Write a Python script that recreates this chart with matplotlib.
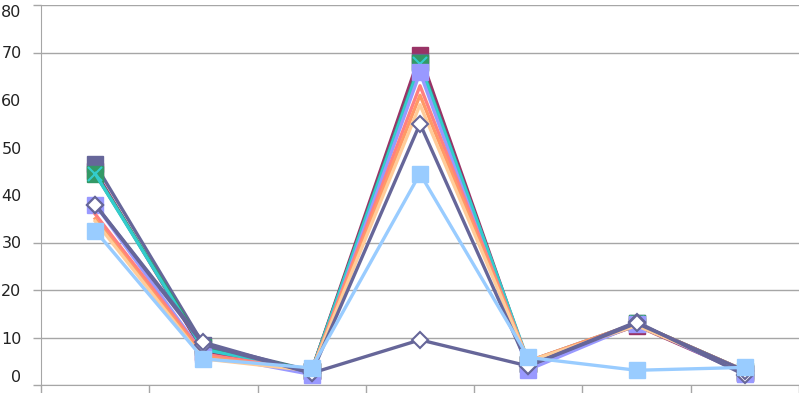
import matplotlib.pyplot as plt

# seven categories, no labels shown on the x axis
cats = [0, 1, 2, 3, 4, 5, 6]

maroon = [45.0, 7.0, 3.0, 69.5, 4.5, 12.5, 2.5]
slate_sq = [46.5, 8.5, 3.0, 68.0, 4.5, 13.0, 2.5]
green = [44.5, 8.0, 3.0, 67.8, 4.5, 13.0, 3.0]
cyan = [44.5, 7.5, 3.0, 67.5, 5.0, 13.0, 3.0]
lavender = [38.0, 6.5, 2.2, 65.8, 3.2, 12.8, 2.4]
salmon = [36.0, 6.5, 3.0, 63.0, 5.0, 13.0, 3.0]
orange = [35.0, 6.0, 3.0, 61.0, 5.0, 13.0, 3.0]
peach = [34.5, 5.5, 3.0, 59.0, 5.0, 12.5, 3.0]
slate_dia = [38.0, 8.5, 2.5, 55.0, 4.0, 13.3, 2.1]
slate_dia2 = [38.0, 9.0, 2.5, 9.5, 4.0, 13.0, 3.0]
light_blue = [32.5, 5.5, 3.6, 44.5, 5.8, 3.1, 3.7]

grid_ticks = [0, 10, 20, 30, 70, 80]
bare_ticks = [40, 50, 60]

fig = plt.figure(figsize=(7.99, 3.93), dpi=100)
ax = fig.add_axes([41 / 799, 8 / 393, 1 - 41 / 799, 380 / 393])

lw = 2.4
ax.plot(cats, maroon, color="#993366", lw=lw, marker="s", ms=12, mec="#993366")
ax.plot(cats, slate_sq, color="#666699", lw=lw, marker="s", ms=12, mec="#666699")
ax.plot(cats, green, color="#339966", lw=lw, marker="s", ms=12, mec="#339966")
ax.plot(cats, cyan, color="#33CCCC", lw=lw, marker="x", ms=10, mew=1.5)
ax.plot(cats, lavender, color="#9999FF", lw=lw, marker="s", ms=12, mec="#9999FF")
ax.plot(cats, salmon, color="#FF8080", lw=lw)
ax.plot(cats, orange, color="#FF9966", lw=lw)
ax.plot(cats, peach, color="#FFCC99", lw=lw)
ax.plot(cats, slate_dia, color="#666699", lw=lw, marker="D", ms=8,
        mfc="white", mec="#666699", mew=1.5)
ax.plot(cats, slate_dia2, color="#666699", lw=lw, marker="D", ms=8,
        mfc="white", mec="#666699", mew=1.5)
ax.plot(cats, light_blue, color="#99CCFF", lw=lw, marker="s", ms=11, mec="#99CCFF")

ax.set_xlim(-0.5, 6.5)
ax.set_ylim(0, 80)

# major ticks carry grid + tick marks, minor ones only the label
ax.set_yticks(grid_ticks)
labels = ax.set_yticklabels([str(v) for v in grid_ticks], fontsize=11.5,
                            color="#222222")
ax.set_yticks(bare_ticks, minor=True)
ax.set_yticklabels([str(v) for v in bare_ticks], minor=True, fontsize=11.5,
                   color="#222222")
# keep the end labels inside the canvas
labels[0].set_va("bottom")
labels[-1].set_va("top")
for v in grid_ticks:
    ax.axhline(v, color="#A6A6A6", lw=1, zorder=0)

ax.set_xticks([c - 0.5 for c in cats] + [6.5])
ax.set_xticklabels([])

ax.tick_params(axis="y", which="major", length=6, width=1, color="#A6A6A6", pad=8)
ax.tick_params(axis="y", which="minor", length=0, pad=14)
ax.tick_params(axis="x", length=6, width=1, color="#A6A6A6")
for s in ["top", "right"]:
    ax.spines[s].set_visible(False)
for s in ["left", "bottom"]:
    ax.spines[s].set_color("#A6A6A6")

fig.savefig("out.png", dpi=100)
